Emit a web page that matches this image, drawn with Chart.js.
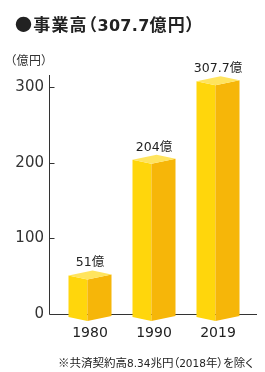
<!DOCTYPE html>
<html>
<head>
<meta charset="utf-8">
<script src="https://cdn.jsdelivr.net/npm/chart.js@4"></script>
<style>
  html, body { margin: 0; padding: 0; background: #fff; }
  body { width: 265px; height: 372px; position: relative; overflow: hidden;
    font-family: "DejaVu Sans", "Noto Sans CJK JP", sans-serif; color: #222; }
  #wrap { position: absolute; left: 0; top: 0; width: 265px; height: 372px; }
  .title { position: absolute; left: 15px; top: 14px; font-size: 17px; font-weight: bold;
    font-family: "Noto Sans CJK JP", sans-serif; font-feature-settings: "palt" 1;
    line-height: 20px; white-space: nowrap; letter-spacing: 1.2px; }
  .title .num { font-family: "DejaVu Sans", sans-serif; font-size: 16px; letter-spacing: 0.3px; }
  .unit { position: absolute; left: 10px; top: 53px; font-size: 12px; line-height: 14px;
    font-family: "Noto Sans CJK JP", sans-serif; font-feature-settings: "palt" 1;
    color: #333; white-space: nowrap; letter-spacing: 0.5px; }
  .note { position: absolute; left: 58px; top: 355px; font-size: 11.5px; line-height: 14px;
    font-family: "Noto Sans CJK JP", sans-serif; font-feature-settings: "palt" 1;
    color: #222; white-space: nowrap; }
  .note .num { font-family: "DejaVu Sans", sans-serif; font-size: 10.5px; }
</style>
</head>
<body>
<div id="wrap"><canvas id="chart" width="265" height="372"></canvas></div>
<div class="title">●事業高（<span class="num">307.7</span>億円）</div>
<div class="unit">（億円）</div>
<div class="note">※共済契約高<span class="num">8.34</span>兆円（<span class="num">2018</span>年）を除く</div>
<script>
(function () {
  'use strict';

  var years = ['1980', '1990', '2019'];
  var sales = [51, 204, 307.7];
  var valueLabels = ['51億', '204億', '307.7億'];
  var yTicks = [0, 100, 200, 300];

  var FACE_LEFT = '#FFD60C';
  var FACE_RIGHT = '#F6B609';
  var FACE_TOP = '#FFE45E';
  var AXIS = '#333';
  var NUM_FONT = '"DejaVu Sans", "Noto Sans CJK JP", sans-serif';

  // axis lines with small ticks pointing right, drawn under the bars
  var axisLines = {
    id: 'axisLines',
    beforeDatasetsDraw: function (chart) {
      var ctx = chart.ctx;
      var y = chart.scales.y;
      var area = chart.chartArea;
      var ax = 49.5;
      var y0 = Math.round(y.getPixelForValue(0)) + 0.5;
      ctx.save();
      ctx.strokeStyle = AXIS;
      ctx.lineWidth = 1;
      ctx.beginPath();
      ctx.moveTo(ax, area.top);
      ctx.lineTo(ax, y0);
      ctx.lineTo(257, y0);
      yTicks.forEach(function (v) {
        if (v === 0) return;
        var py = Math.round(y.getPixelForValue(v)) + 0.5;
        ctx.moveTo(ax, py);
        ctx.lineTo(ax + 5, py);
      });
      ctx.stroke();
      ctx.restore();
    }
  };

  // draw each bar as a little box seen from above
  var boxes = {
    id: 'boxes',
    afterDatasetsDraw: function (chart) {
      var ctx = chart.ctx;
      var meta = chart.getDatasetMeta(0);
      ctx.save();
      meta.data.forEach(function (bar, i) {
        var half = bar.width / 2;
        var x0 = bar.x - half;
        var x1 = bar.x + half;
        var xm = x0 + bar.width * 0.44;
        var top = bar.y + 4;
        var base = bar.base;
        var dl = 4, dr = 5;

        ctx.fillStyle = FACE_LEFT;
        ctx.beginPath();
        ctx.moveTo(x0, top - dl);
        ctx.lineTo(xm, top);
        ctx.lineTo(xm, base + 7);
        ctx.lineTo(x0, base + 7 - dl);
        ctx.closePath();
        ctx.fill();

        ctx.fillStyle = FACE_RIGHT;
        ctx.beginPath();
        ctx.moveTo(xm, top);
        ctx.lineTo(x1, top - dr);
        ctx.lineTo(x1, base + 7 - dr);
        ctx.lineTo(xm, base + 7);
        ctx.closePath();
        ctx.fill();

        ctx.fillStyle = FACE_TOP;
        ctx.beginPath();
        ctx.moveTo(xm, top);
        ctx.lineTo(x0, top - dl);
        ctx.lineTo(x0 + x1 - xm, top - dl - dr);
        ctx.lineTo(x1, top - dr);
        ctx.closePath();
        ctx.fill();

        ctx.fillStyle = '#222';
        ctx.font = '12.5px ' + NUM_FONT;
        ctx.textAlign = 'center';
        ctx.textBaseline = 'alphabetic';
        ctx.fillText(valueLabels[i], bar.x, top - dl - dr - 4);
      });
      ctx.restore();
    }
  };

  new Chart(document.getElementById('chart'), {
    type: 'bar',
    data: {
      labels: years,
      datasets: [{
        data: sales,
        backgroundColor: 'rgba(0,0,0,0)',
        borderWidth: 0,
        barThickness: 43
      }]
    },
    options: {
      responsive: false,
      animation: false,
      events: [],
      layout: { padding: { left: 0, right: 15, top: 75, bottom: 28 } },
      plugins: { legend: { display: false }, tooltip: { enabled: false } },
      scales: {
        x: {
          grid: { display: false, drawTicks: false },
          border: { display: false },
          ticks: {
            color: '#222',
            padding: 11,
            font: { family: NUM_FONT, size: 14 }
          },
          afterFit: function (scale) { scale.height = 30; }
        },
        y: {
          min: 0,
          max: 316,
          grid: { display: false, drawTicks: false },
          border: { display: false },
          afterBuildTicks: function (scale) {
            scale.ticks = yTicks.map(function (v) { return { value: v }; });
          },
          ticks: {
            color: '#333',
            padding: 14,
            font: { family: NUM_FONT, size: 15 }
          },
          afterFit: function (scale) { scale.width = 58; }
        }
      }
    },
    plugins: [axisLines, boxes]
  });
})();
</script>
</body>
</html>
